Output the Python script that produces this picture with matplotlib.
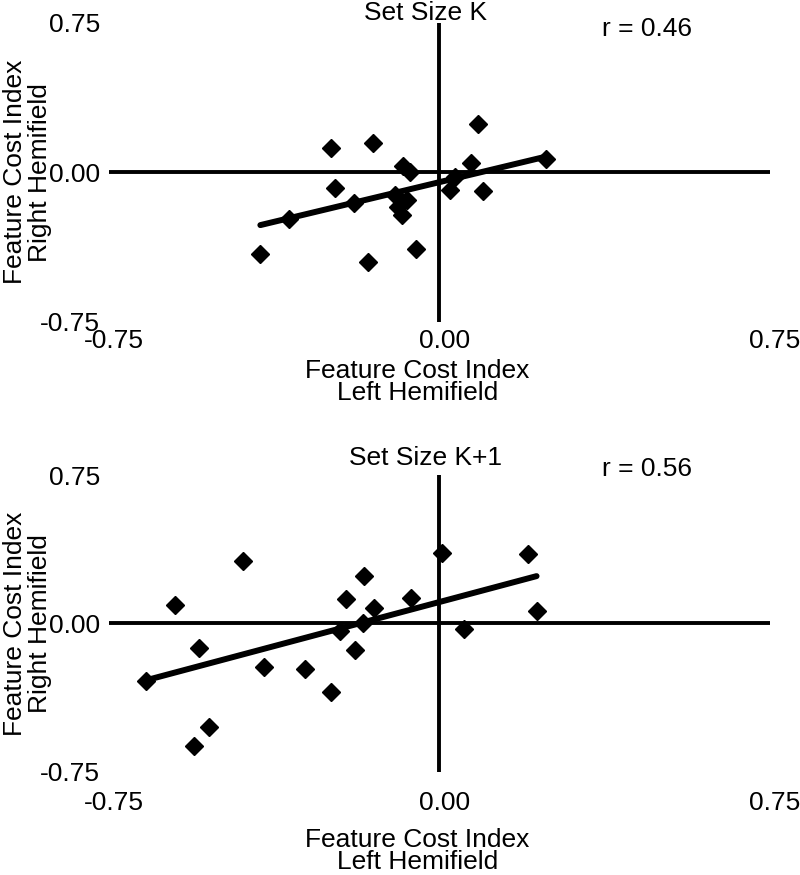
import matplotlib
matplotlib.use("Agg")
import matplotlib.pyplot as plt
import numpy as np
from matplotlib.transforms import ScaledTranslation

plt.rcParams['font.family'] = ['Liberation Sans', 'DejaVu Sans']
plt.rcParams['axes.unicode_minus'] = False

# Set Size K
k_left = [-0.406, -0.341, -0.245, -0.237, -0.150, -0.194, -0.162, -0.082, -0.067, -0.101,
          -0.074, -0.093, -0.084, -0.053, 0.025, 0.035, 0.073, 0.089, 0.099, 0.242]
k_right = [-0.412, -0.235, 0.120, -0.078, 0.145, -0.156, -0.452, 0.031, 0.003, -0.114,
           -0.139, -0.173, -0.215, -0.385, -0.089, -0.026, 0.045, 0.240, -0.093, 0.065]
k_fit = (0.53, -0.05)  # наклон, сдвиг

# Set Size K+1
k1_left = [-0.665, -0.600, -0.546, -0.445, -0.522, -0.557, -0.398, -0.305, -0.245, -0.226,
           -0.211, -0.170, -0.174, -0.190, -0.148, -0.065, 0.007, 0.057, 0.202, 0.221]
k1_right = [-0.290, 0.092, -0.122, 0.315, -0.523, -0.619, -0.222, -0.231, -0.346, -0.039,
            0.123, 0.241, 0.000, -0.135, 0.079, 0.129, 0.354, -0.029, 0.349, 0.062]
k1_fit = (0.594, 0.108)

ticks = [-0.75, 0.0, 0.75]
tick_labels = ['-0.75', '0.00', '0.75']

fs = 19
fig = plt.figure(figsize=(8, 8.75), dpi=100)

panels = [
    # x, y, fit, title, r, axes rect, title y, r y, xtick pad, xlabel y
    (k_left, k_right, k_fit, 'Set Size K', 'r = 0.46', [0.136, 0.6323, 0.826, 0.3417], 1.009, 0.979, 5, -0.125),
    (k1_left, k1_right, k1_fit, 'Set Size K+1', 'r = 0.56', [0.136, 0.118, 0.826, 0.339], 1.034, 1.020, 14, -0.19),
]

for xs, ys, fit, title, rtxt, rect, ty, ry, xpad, xly in panels:
    ax = fig.add_axes(rect)
    ax.set_xlim(-0.75, 0.75)
    ax.set_ylim(-0.75, 0.75)
    for s in ax.spines.values():
        s.set_visible(False)
    ax.axhline(0, color='black', lw=2.8, zorder=1)
    ax.axvline(0, color='black', lw=2.8, zorder=1)

    xx = np.array([min(xs), max(xs)])
    ax.plot(xx, fit[0] * xx + fit[1], color='black', lw=4.3, solid_capstyle='round', zorder=2)
    ax.plot(xs, ys, 'D', color='black', ms=9, zorder=3)

    ax.set_xticks(ticks)
    ax.set_xticklabels(tick_labels)
    ax.set_yticks(ticks)
    ax.set_yticklabels(tick_labels)
    ax.tick_params(axis='both', length=0, labelsize=fs)
    ax.tick_params(axis='y', pad=6.5)
    ax.tick_params(axis='x', pad=xpad)
    for lab in ax.get_xticklabels():
        lab.set_transform(lab.get_transform() + ScaledTranslation(5 / 100, 0, fig.dpi_scale_trans))

    ax.text(0.48, ty, title, transform=ax.transAxes, ha='center', va='baseline', fontsize=fs)
    ax.text(0.814, ry, rtxt, transform=ax.transAxes, ha='center', va='center', fontsize=fs)

    ax.set_xlabel('Feature Cost Index\nLeft Hemifield', fontsize=fs, linespacing=0.9)
    ax.xaxis.set_label_coords(0.467, xly)
    ax.set_ylabel('Feature Cost Index\nRight Hemifield', fontsize=fs, linespacing=1.05)
    ax.yaxis.set_label_coords(-0.086, 0.5)

plt.savefig('out.png', dpi=100)
